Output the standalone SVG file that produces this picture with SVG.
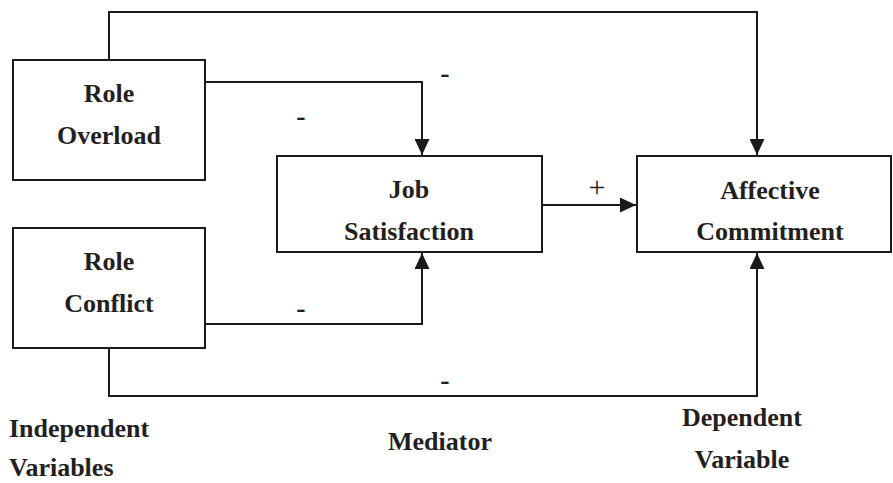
<svg xmlns="http://www.w3.org/2000/svg" width="893" height="483" viewBox="0 0 893 483">
  <style>
    .box { fill: #ffffff; stroke: #1a1a1a; stroke-width: 2; }
    .conn { fill: none; stroke: #1a1a1a; stroke-width: 2; }
    text { fill: #231f20; }
  </style>
  <defs>
    <marker id="arrow" markerUnits="userSpaceOnUse" markerWidth="16" markerHeight="15" refX="16" refY="7.5" orient="auto">
      <path d="M0,0 L16,7.5 L0,15 Z" fill="#1a1a1a"/>
    </marker>
  </defs>
  <rect width="893" height="483" fill="#ffffff"/>

  <g id="connectors">
    <path class="conn" d="M109,60 V12 H757 V155" marker-end="url(#arrow)"/>
    <path class="conn" d="M205,82 H422 V155" marker-end="url(#arrow)"/>
    <path class="conn" d="M205,324 H422 V253" marker-end="url(#arrow)"/>
    <path class="conn" d="M109,348 V396 H757 V253" marker-end="url(#arrow)"/>
    <path class="conn" d="M542,205 H636" marker-end="url(#arrow)"/>
    <g font-family="Liberation Serif, Times New Roman, serif" font-weight="bold" font-size="28" text-anchor="middle">
      <text x="445" y="82">-</text>
      <text x="301" y="125">-</text>
      <text x="301" y="317">-</text>
      <text x="445" y="389">-</text>
    </g>
    <text font-family="Liberation Serif, Times New Roman, serif" font-size="30" text-anchor="middle" x="597" y="197">+</text>
  </g>

  <g font-family="Liberation Serif, Times New Roman, serif" font-weight="bold" font-size="26" text-anchor="middle">
    <g id="role-overload">
      <rect class="box" x="13" y="60" width="192" height="120"/>
      <text x="109" y="102">Role</text>
      <text x="109" y="144">Overload</text>
    </g>

    <g id="role-conflict">
      <rect class="box" x="13" y="228" width="192" height="120"/>
      <text x="109" y="270">Role</text>
      <text x="109" y="312">Conflict</text>
    </g>

    <g id="job-satisfaction">
      <rect class="box" x="277" y="156" width="265" height="96"/>
      <text x="409" y="198">Job</text>
      <text x="409" y="240">Satisfaction</text>
    </g>

    <g id="affective-commitment">
      <rect class="box" x="637" y="156" width="254" height="96"/>
      <text x="770" y="199">Affective</text>
      <text x="770" y="240">Commitment</text>
    </g>

    <g id="captions">
      <text x="9" y="437" text-anchor="start">Independent</text>
      <text x="9" y="476" text-anchor="start">Variables</text>
      <text x="440" y="450">Mediator</text>
      <text x="742" y="426">Dependent</text>
      <text x="742" y="468">Variable</text>
    </g>
  </g>
</svg>
